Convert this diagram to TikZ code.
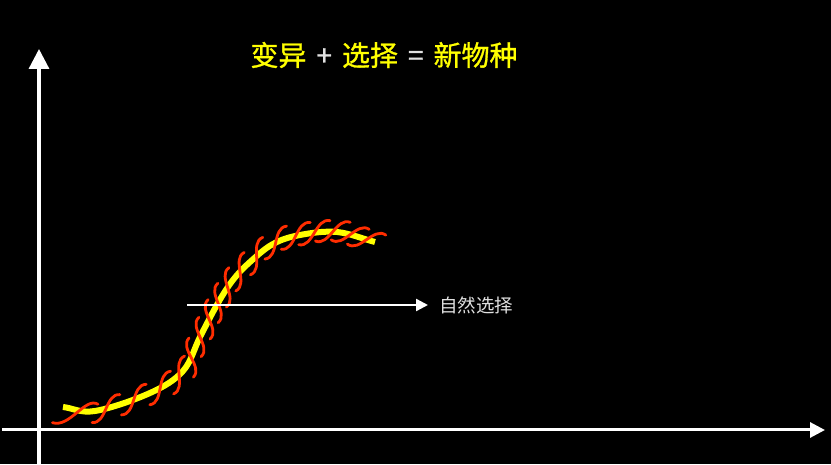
\documentclass[tikz,border=0pt]{standalone}
\usepackage{fontspec}
\newfontfamily\cjk{Noto Sans CJK SC}
\newfontfamily\cjktitle{Noto Sans CJK SC}[FakeBold=1]
\usetikzlibrary{arrows.meta}
\definecolor{hyellow}{RGB}{255,255,0}
\definecolor{hred}{RGB}{255,45,0}
\definecolor{lgray}{RGB}{225,225,225}
\newcommand\helixpiece{\draw[redline] (-17,-10) .. controls (-3,-15) and (3,15) .. (17,10);}
\newcommand\helixfirst{\draw[redline] (-24,-17) .. controls (-6,-19) and (3,15) .. (17,10);}
\newcommand\helixat[3]{\begin{scope}[shift={(#1,#2)},rotate=#3]\helixpiece\end{scope}}
\begin{document}
\begin{tikzpicture}[x=1pt,y=1pt,
  yaxis/.style={white, line width=3.2pt, -{Triangle[length=20pt,width=20pt]}},
  xaxis/.style={white, line width=3pt, -{Triangle[length=15pt,width=15pt]}},
  selarrow/.style={white, line width=2.4pt, -{Triangle[length=12pt,width=12pt]}},
  redline/.style={hred, line width=2.8pt, line cap=round},
  yellowcurve/.style={hyellow, line width=6pt},
  titletext/.style={text=hyellow, font=\cjktitle\fontsize{28}{30}\selectfont, inner sep=0pt},
  labeltext/.style={text=lgray, font=\cjk\fontsize{18.5}{20}\selectfont, inner sep=0pt, inner xsep=11pt, anchor=west}
]
\useasboundingbox (0,0) rectangle (831,464);
\fill[black] (0,0) rectangle (831,464);
% axes
\coordinate (ybottom) at (39,0);
\coordinate (ytop) at (39,415);
\coordinate (xleft) at (2,34);
\coordinate (xright) at (825,34);
\draw[yaxis] (ybottom) -- (ytop);
\draw[xaxis] (xleft) -- (xright);
% title
\node[titletext] (title) at (384,409) {变异\hspace{10pt}\textcolor{lgray}{+}\hspace{10pt}选择\hspace{10pt}\textcolor{lgray}{=}\hspace{10pt}新物种};
% yellow S-curve
\draw[yellowcurve] (63,57) .. controls (73.7,55.7) and (80.5,50.7) .. (95,53)
  .. controls (109.5,55.3) and (135.3,64.3) .. (150,71)
  .. controls (164.7,77.7) and (174.7,83.7) .. (183,93)
  .. controls (191.3,102.3) and (194.2,115.7) .. (200,127)
  .. controls (205.8,138.3) and (212.5,151.5) .. (218,161)
  .. controls (223.5,170.5) and (227.7,177.2) .. (233,184)
  .. controls (238.3,190.8) and (243.3,196) .. (250,202)
  .. controls (256.7,208) and (264.7,215.5) .. (273,220)
  .. controls (281.3,224.5) and (289.3,227) .. (300,229)
  .. controls (310.7,231) and (324.5,233.2) .. (337,232)
  .. controls (349.5,230.8) and (362.3,225.3) .. (375,222);
% red helix pieces
\begin{scope}[shift={(79.3,53.3)},rotate=-11.3]\helixfirst\end{scope}
\helixat{106.0}{55.4}{14.7}
\helixat{133.8}{64.4}{20.5}
\helixat{160.2}{76.0}{27.8}
\helixat{179.1}{89.0}{43.4}
\helixat{191.2}{106.4}{65.9}
\helixat{200.0}{127.0}{62.8}
\helixat{209.1}{144.7}{62.4}
\helixat{218.0}{161.0}{59.9}
\helixat{227.6}{176.6}{55.9}
\helixat{240.0}{192.3}{47.2}
\helixat{256.6}{207.9}{41.3}
\helixat{275.7}{221.4}{26.2}
\helixat{295.7}{228.1}{12.2}
\helixat{314.4}{231.3}{7.1}
\helixat{332.8}{232.3}{-2.2}
\helixat{350.2}{229.4}{-15.1}
\helixat{366.6}{224.4}{-17.3}
% natural selection arrow
\coordinate (selstart) at (187,159);
\node[labeltext] (sel) at (428,159) {自然选择};
\draw[selarrow] (selstart) -- (sel.west);
\end{tikzpicture}
\end{document}
